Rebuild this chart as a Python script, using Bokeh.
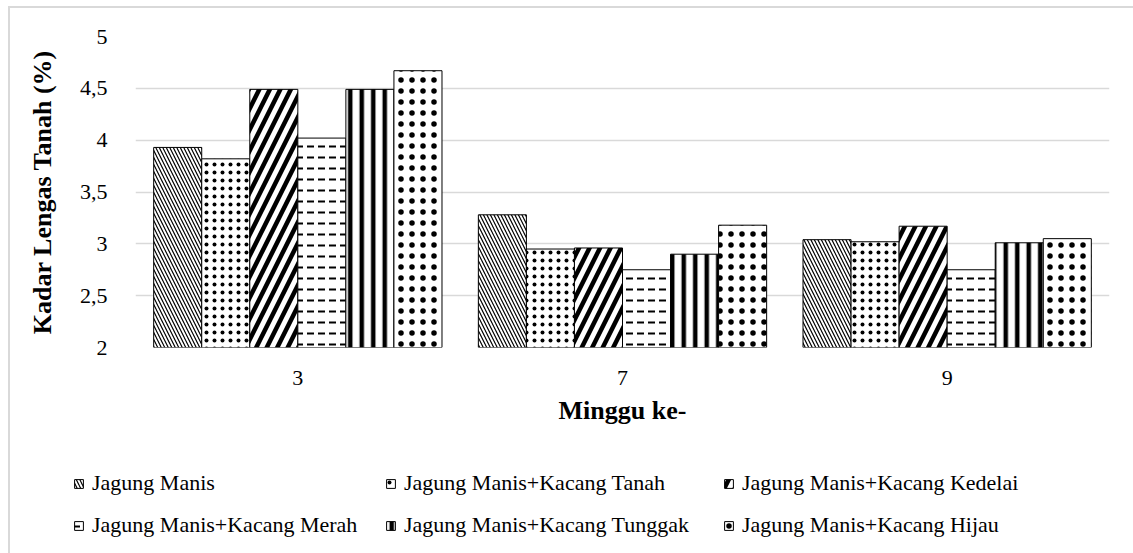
from bokeh.plotting import figure
from bokeh.layouts import column
from bokeh.models import (ColumnDataSource, FactorRange, Range1d, Legend, LegendItem,
                          CustomJSTickFormatter, SingleIntervalTicker)
from bokeh.transform import dodge
from bokeh.embed import file_html
from bokeh.resources import INLINE

# Soil moisture (%) per week for each planting pattern
weeks = ["3", "7", "9"]
series_names = [
    "Jagung Manis",
    "Jagung Manis+Kacang Tanah",
    "Jagung Manis+Kacang Kedelai",
    "Jagung Manis+Kacang Merah",
    "Jagung Manis+Kacang Tunggak",
    "Jagung Manis+Kacang Hijau",
]
jagung_manis = [3.93, 3.28, 3.04]
jm_kacang_tanah = [3.82, 2.95, 3.02]
jm_kacang_kedelai = [4.49, 2.96, 3.17]
jm_kacang_merah = [4.02, 2.75, 2.75]
jm_kacang_tunggak = [4.49, 2.90, 3.01]
jm_kacang_hijau = [4.67, 3.18, 3.05]
y_ticks_min, y_ticks_max, y_step = 2, 5, 0.5

keys = ["s0", "s1", "s2", "s3", "s4", "s5"]
source = ColumnDataSource(dict(
    week=weeks,
    s0=jagung_manis, s1=jm_kacang_tanah, s2=jm_kacang_kedelai,
    s3=jm_kacang_merah, s4=jm_kacang_tunggak, s5=jm_kacang_hijau,
))

# hatch styles: (pattern, scale, weight)
hatches = [
    ("\\", 7, 1.2),
    (".", 8, 1.4),
    ("/", 21, 4.5),
    ('"', 11, 2.0),
    ("|", 11.5, 4.5),
    (".", 11, 1.1),
]

SERIF = "Liberation Serif"
WIDTH = 1123

# ---- main chart ----
p = figure(
    x_range=FactorRange(*weeks, range_padding=0),
    y_range=Range1d(y_ticks_min, y_ticks_max),
    width=WIDTH, height=430,
    output_backend="svg", toolbar_location=None,
    min_border_left=125, min_border_right=24, min_border_top=28, min_border_bottom=91,
)
p.outline_line_color = None
p.background_fill_color = "white"
p.border_fill_color = "white"

bar_w = 0.148
bar_style = dict(fill_color="white", line_color="black", line_width=1, hatch_color="black")
renderers = []
for i, (k, (pat, sc, wt)) in enumerate(zip(keys, hatches)):
    r = p.vbar(
        x=dodge("week", (i - 2.5) * bar_w, range=p.x_range), top=k, bottom=y_ticks_min,
        width=bar_w, source=source,
        hatch_pattern=pat, hatch_scale=sc, hatch_weight=wt, **bar_style,
    )
    renderers.append(r)

p.xgrid.grid_line_color = None
p.ygrid.grid_line_color = "#d9d9d9"
p.ygrid.grid_line_width = 1.5
p.yaxis.ticker = SingleIntervalTicker(interval=y_step)
p.ygrid.ticker = SingleIntervalTicker(interval=y_step)

for ax in (p.xaxis[0], p.yaxis[0]):
    ax.axis_line_color = None
    ax.major_tick_line_color = None
    ax.minor_tick_line_color = None
    ax.major_label_text_font = SERIF
    ax.major_label_text_font_size = "22px"
    ax.major_label_text_color = "black"
    ax.axis_label_text_font = SERIF
    ax.axis_label_text_font_style = "bold"
    ax.axis_label_text_font_size = "26px"
    ax.axis_label_text_color = "black"

p.yaxis.formatter = CustomJSTickFormatter(code="return String(tick).replace('.', ',');")
p.yaxis.axis_label = "Kadar Lengas Tanah (%)"
p.yaxis.major_label_standoff = 22
p.yaxis.axis_label_standoff = 20
p.xaxis.axis_label = "Minggu ke-"
p.xaxis.major_label_standoff = 17
p.xaxis.axis_label_standoff = 8

# ---- legend strip: swatches share the bar styles ----
q = figure(
    x_range=Range1d(0, 1), y_range=Range1d(0, 1),
    width=WIDTH, height=115, x_axis_type=None, y_axis_type=None,
    output_backend="svg", toolbar_location=None, min_border=0,
)
q.frame_align = False
q.outline_line_color = None
q.grid.visible = False
swatches = []
for pat, sc, wt in hatches:
    # one off-screen bar per style, only its legend swatch is seen
    swatches.append(q.vbar(x=[-5], top=[-5], bottom=[-6], width=0.1,
                           hatch_pattern=pat, hatch_scale=sc, hatch_weight=wt, **bar_style))

col_x = [63, 375, 713]
for c in range(3):
    lg = Legend(
        items=[LegendItem(label=series_names[c], renderers=[swatches[c]]),
               LegendItem(label=series_names[c + 3], renderers=[swatches[c + 3]])],
        location=(col_x[c], 15),
        label_text_font=SERIF, label_text_font_size="22px", label_text_color="black",
        glyph_width=11, glyph_height=11, label_standoff=8, spacing=16,
        padding=0, margin=0, border_line_color=None, background_fill_alpha=0,
    )
    q.add_layout(lg, "center")

layout = column(p, q, spacing=0)
layout.margin = (6, 0, 0, 8)
layout.styles = {"border-left": "2px solid #d9d9d9", "border-top": "2px solid #d9d9d9"}

open("out.html", "w").write(file_html(layout, INLINE))
